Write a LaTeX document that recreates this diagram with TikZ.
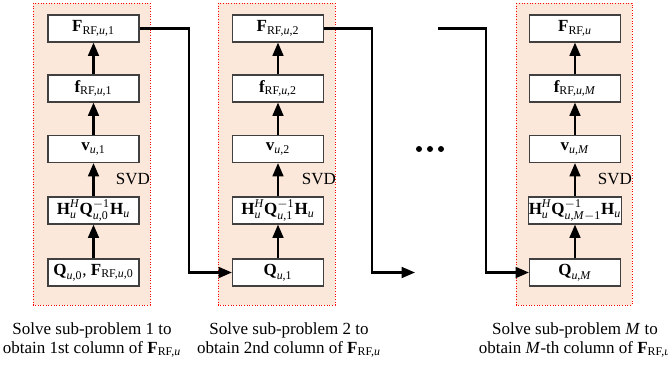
\documentclass[tikz,border=0pt]{standalone}
\usepackage{amsmath}
\usepackage{fontspec}
\setmainfont{Liberation Serif}
\usetikzlibrary{arrows.meta}

\definecolor{subbg}{RGB}{251,232,218}
\definecolor{boxline}{RGB}{64,64,64}

% bold matrix letter and italic user index in text font
\newcommand{\mb}[1]{\text{\bfseries #1}}
\newcommand{\iu}{\textit{u}}

\tikzset{
  stage/.style={draw=red, densely dotted, line width=0.6pt, fill=subbg},
  blk/.style={draw=boxline, line width=0.7pt, fill=white, minimum width=54.6pt,
    minimum height=16.2pt, inner sep=0pt},
  up/.style={-{Triangle[length=8pt,width=6.5pt]}, line width=1.3pt},
  link/.style={-{Triangle[length=8pt,width=6.5pt]}, line width=1.3pt},
}

\begin{document}
\begin{tikzpicture}[x=0.6pt, y=-0.6pt, font=\fontsize{10.2}{11.4}\selectfont]
  \useasboundingbox (0,0) rectangle (668,368);

  %% frames
  \draw[stage] (33,3) rectangle (150,305);
  \draw[stage] (218,3) rectangle (335,305);
  \draw[stage] (516,3) rectangle (632,305);

  %% sub-problem 1
  \node[blk] (q1) at (93.5,272.5) {$\mb{Q}_{\text{\iu,0}}$, $\mb{F}_{\text{RF,\iu,0}}$};
  \node[blk] (h1) at (93.5,210.5) {$\mb{H}_{\iu}^{\textit{H}}\mb{Q}_{\text{\iu,0}}^{-\text{1}}\mb{H}_{\iu}$};
  \node[blk] (v1) at (93.5,149) {$\mb{v}_{\text{\iu,1}}$};
  \node[blk] (f1) at (93.5,88.5) {$\mb{f}_{\text{RF,\iu,1}}$};
  \node[blk] (F1) at (93.5,28.5) {$\mb{F}_{\text{RF,\iu,1}}$};
  \node[anchor=west] (svd1) at (110,179) {SVD};
  \draw[up] (q1) -- (h1);
  \draw[up] (h1) -- (v1);
  \draw[up] (v1) -- (f1);
  \draw[up] (f1) -- (F1);

  %% sub-problem 2
  \node[blk] (q2) at (278,272.5) {$\mb{Q}_{\text{\iu,1}}$};
  \node[blk] (h2) at (278,210.5) {$\mb{H}_{\iu}^{\textit{H}}\mb{Q}_{\text{\iu,1}}^{-\text{1}}\mb{H}_{\iu}$};
  \node[blk] (v2) at (278,149) {$\mb{v}_{\text{\iu,2}}$};
  \node[blk] (f2) at (278,88.5) {$\mb{f}_{\text{RF,\iu,2}}$};
  \node[blk] (F2) at (278,28.5) {$\mb{F}_{\text{RF,\iu,2}}$};
  \node[anchor=west] (svd2) at (296,179) {SVD};
  \draw[up] (q2) -- (h2);
  \draw[up] (h2) -- (v2);
  \draw[up] (v2) -- (f2);
  \draw[up] (f2) -- (F2);

  %% sub-problem M
  \node[blk] (q3) at (575,272.5) {$\mb{Q}_{\text{\iu,\textit{M}}}$};
  \node[blk] (h3) at (575,210.5) {$\mb{H}_{\iu}^{\textit{H}}\mb{Q}_{\text{\iu,\textit{M}}-\text{1}}^{-\text{1}}\mb{H}_{\iu}$};
  \node[blk] (v3) at (575,149) {$\mb{v}_{\text{\iu,\textit{M}}}$};
  \node[blk] (f3) at (575,88.5) {$\mb{f}_{\text{RF,\iu,\textit{M}}}$};
  \node[blk] (F3) at (575,28.5) {$\mb{F}_{\text{RF,\iu}}$};
  \node[anchor=west] (svd3) at (592,179) {SVD};
  \draw[up] (q3) -- (h3);
  \draw[up] (h3) -- (v3);
  \draw[up] (v3) -- (f3);
  \draw[up] (f3) -- (F3);

  %% hand-over between sub-problems
  \coordinate (gap1) at (415,272.5);
  \coordinate (gap2) at (438,28.5);
  \draw[link] (F1.east) -- ++(49,0) |- (q2.west);
  \draw[link] (F2.east) -- ++(48,0) |- (gap1);
  \draw[link] (gap2) -- ++(48,0) |- (q3.west);

  \fill (419,149) circle (1.8pt);
  \fill (430,149) circle (1.8pt);
  \fill (441,149) circle (1.8pt);

  %% captions
  \node[align=center] (cap1) at (92,340) {Solve sub-problem 1 to\\obtain 1st column of $\mb{F}_{\text{RF,\iu}}$};
  \node[align=center] (cap2) at (289,340) {Solve sub-problem 2 to\\obtain 2nd column of $\mb{F}_{\text{RF,\iu}}$};
  \node[align=center] (cap3) at (575,340) {Solve sub-problem \textit{M} to\\obtain \textit{M}-th column of $\mb{F}_{\text{RF,\iu}}$};

\end{tikzpicture}
\end{document}
